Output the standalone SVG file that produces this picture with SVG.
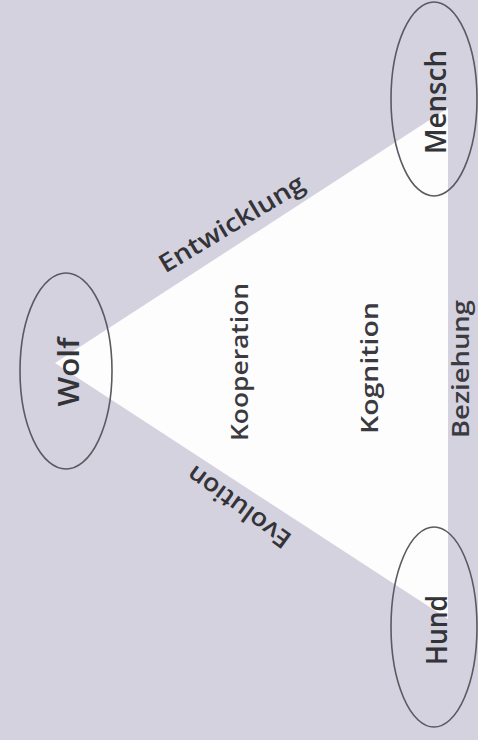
<svg xmlns="http://www.w3.org/2000/svg" width="478" height="740" viewBox="0 0 478 740">
<style>
.node ellipse{fill:none;stroke:#5a5a60;stroke-width:1.6}
text{font-family:"Open Sans","Liberation Sans",sans-serif;fill:#333338;text-anchor:middle}
.nl{font-size:28px;font-weight:600}
.el{font-size:25px;font-weight:600}
.il{font-size:24px;font-weight:600;fill:#3a3a40}
</style>
<rect x="0" y="0" width="478" height="740" fill="#d4d2df"/>
<g id="connectors">
<polygon points="55,363 448,108 448,619" fill="#fdfdfe"/>
<text class="el" transform="translate(236,231) rotate(-31)" textLength="165" lengthAdjust="spacingAndGlyphs">Entwicklung</text>
<text class="el" transform="translate(244,500) rotate(-144)" textLength="122" lengthAdjust="spacingAndGlyphs">Evolution</text>
<text class="il" transform="translate(469,369) rotate(-90)" textLength="138" lengthAdjust="spacingAndGlyphs">Beziehung</text>
</g>
<g id="labels">
<text class="il" transform="translate(248,362) rotate(-90)" textLength="158" lengthAdjust="spacingAndGlyphs">Kooperation</text>
<text class="il" transform="translate(378,368) rotate(-90)" textLength="132" lengthAdjust="spacingAndGlyphs">Kognition</text>
</g>
<g id="wolf" class="node">
<ellipse cx="66" cy="371" rx="46" ry="98"/>
<text class="nl" transform="translate(79,372) rotate(-90)" textLength="69" lengthAdjust="spacingAndGlyphs">Wolf</text>
</g>
<g id="mensch" class="node">
<ellipse cx="434" cy="99" rx="43" ry="97"/>
<text class="nl" transform="translate(446,102) rotate(-90)" textLength="104" lengthAdjust="spacingAndGlyphs">Mensch</text>
</g>
<g id="hund" class="node">
<ellipse cx="434" cy="627" rx="43" ry="100"/>
<text class="nl" transform="translate(447,630) rotate(-90)" textLength="70" lengthAdjust="spacingAndGlyphs">Hund</text>
</g>
</svg>
